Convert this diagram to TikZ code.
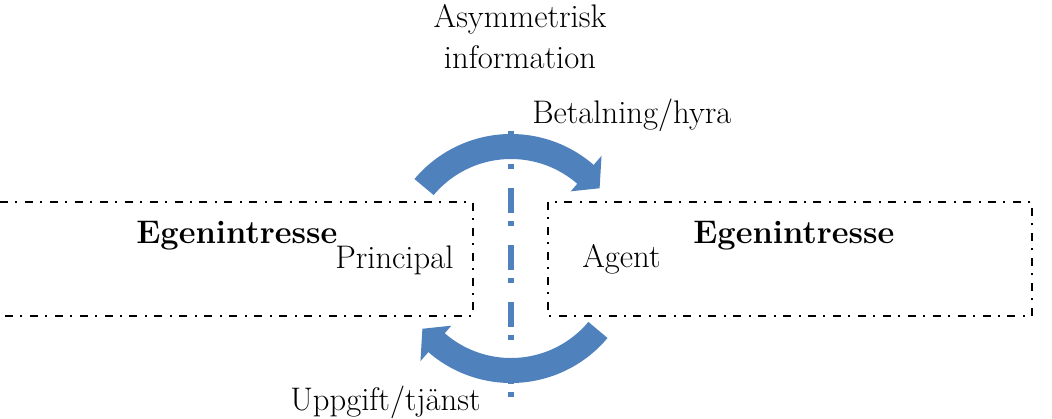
\documentclass[tikz,border=0pt]{standalone}
\usepackage{amsmath}
\usepackage{xcolor}
\usepackage{tikz}
\usetikzlibrary{positioning}

\definecolor{arrowblue}{RGB}{79,129,189}

\begin{document}
\begin{tikzpicture}[x=0.75pt,y=0.75pt,yscale=-1,xscale=1,
  boxline/.style={line width=1.1pt, dash pattern={on 6pt off 5.6pt on 1.5pt off 5.6pt}},
  lbl/.style={inner sep=0pt, font=\fontsize{24.5}{30.75}\selectfont},
  bluearrow/.style={fill=arrowblue, draw=none}]
\useasboundingbox (0,0) rectangle (1052,418);

%Shape: Rectangle (left, open at the page edge)
\draw [boxline] (0,202) -- (473,202) -- (473,316) -- (0,316) ;
%Shape: Rectangle (right)
\draw [boxline] (548,202) rectangle (1032,316) ;

%Shape: Curved Right Arrow (top)
\fill [bluearrow, shift={(511,260)}] (-140:126) arc[start angle=-140, end angle=-49, radius=126] -- (-49:138) -- (-39:114) -- (-49:91) -- (-49:101) arc[start angle=-49, end angle=-140, radius=101] -- cycle ;
%Shape: Curved Left Arrow (bottom)
\fill [bluearrow, shift={(511,257)}] (40:126) arc[start angle=40, end angle=131, radius=126] -- (131:138) -- (141:114) -- (131:91) -- (131:101) arc[start angle=131, end angle=40, radius=101] -- cycle ;

%Straight Lines: information border
\draw [color=arrowblue, line width=4.5pt, dash pattern={on 18.75pt off 6pt on 3.75pt off 14.25pt}, dash phase=29.25pt] (511,113) -- (511,397) ;

%Text
\node [lbl, anchor=north, align=center] (asym) at (520,4) {Asymmetrisk\\information};
\node [lbl, anchor=base west] (pay) at (532,123) {Betalning/hyra};
\node [lbl, anchor=base west] (task) at (290,410) {Uppgift/tjänst};
\node [lbl, anchor=base west, font=\fontsize{24.5}{28}\selectfont\bfseries] (egenL) at (136,243) {Egenintresse};
\node [lbl, anchor=base west] (principal) at (335,268) {Principal};
\node [lbl, anchor=base west] (agent) at (582,267) {Agent};
\node [lbl, anchor=base west, font=\fontsize{24.5}{28}\selectfont\bfseries] (egenR) at (693,243) {Egenintresse};

\end{tikzpicture}
\end{document}
